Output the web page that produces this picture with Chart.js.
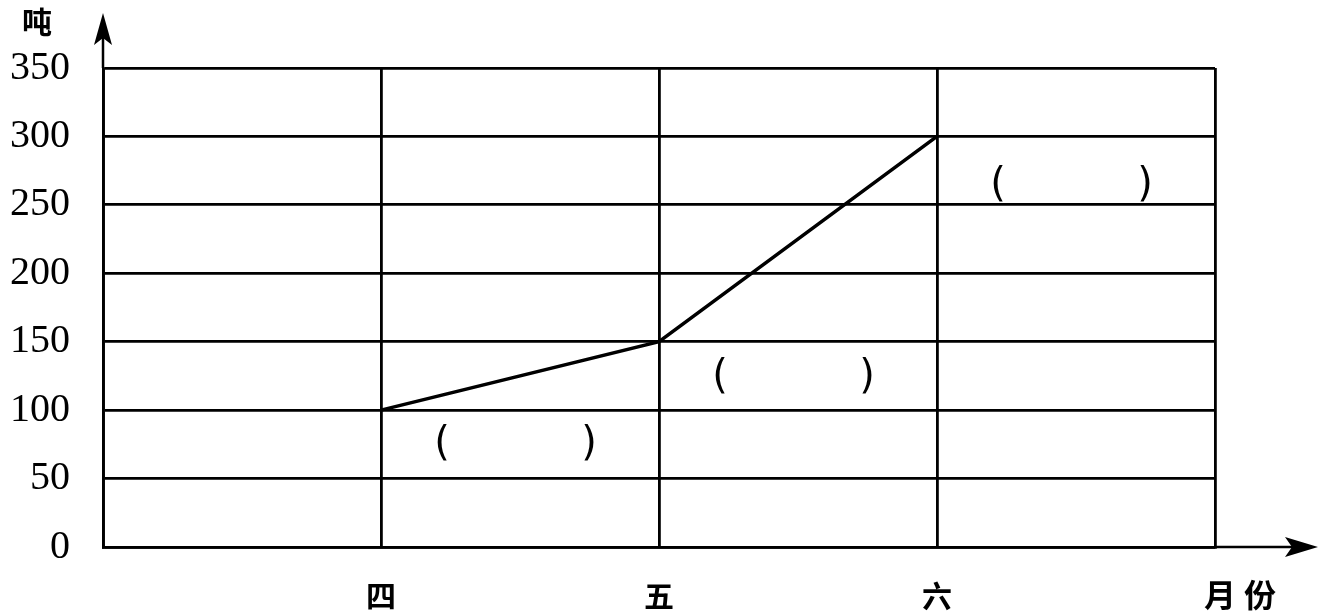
<!DOCTYPE html>
<html>
<head>
<meta charset="utf-8">
<script src="https://cdn.jsdelivr.net/npm/chart.js@4"></script>
<style>
  body { margin: 0; background: #fff; }
  #wrap { width: 1325px; height: 616px; }
</style>
</head>
<body>
<div id="wrap"><canvas id="my-chart" width="1325" height="616"></canvas></div>
<script>
var months = ['', '四', '五', '六', ''];
var tons = [null, 100, 150, 300, null];
var yMax = 350;
var yStep = 50;
var yUnit = '吨';
var xUnit = '月份';

// arrows, units and the "(      )" blanks under each segment
var blankPlugin = {
  id: 'blanks',
  afterDraw: function (chart) {
    var c = chart.ctx;
    var a = chart.chartArea;
    var xs = chart.scales.x, ys = chart.scales.y;
    c.save();
    c.fillStyle = '#000';
    c.strokeStyle = '#000';

    // arrows
    c.lineWidth = 2.5;
    c.beginPath();
    c.moveTo(a.left, a.top);
    c.lineTo(a.left, 30);
    c.moveTo(a.right, a.bottom);
    c.lineTo(1300, a.bottom);
    c.stroke();
    c.beginPath();
    c.moveTo(a.left, 13);
    c.lineTo(a.left - 9, 45);
    c.lineTo(a.left, 38);
    c.lineTo(a.left + 9, 45);
    c.closePath();
    c.fill();
    c.beginPath();
    c.moveTo(1318, a.bottom);
    c.lineTo(1285, a.bottom - 10);
    c.lineTo(1292, a.bottom);
    c.lineTo(1285, a.bottom + 10);
    c.closePath();
    c.fill();

    // units
    c.font = 'bold 30px "Noto Sans CJK SC"';
    c.textAlign = 'center';
    c.textBaseline = 'middle';
    c.fillText(yUnit, 37, 22);
    c.font = 'bold 32px "Noto Sans CJK SC"';
    c.fillText(xUnit.charAt(0), 1220, 595);
    c.fillText(xUnit.charAt(1), 1260, 595);

    // blanks
    c.font = '40px "DejaVu Sans"';
    var spots = [[1.5, 75], [2.5, 124], [3.5, 264]];
    spots.forEach(function (s) {
      var px = xs.getPixelForValue(s[0]);
      var py = ys.getPixelForValue(s[1]);
      c.fillText('(', px - 78, py);
      c.fillText(')', px + 69, py);
    });
    c.restore();
  }
};

var ctx = document.getElementById('my-chart');
var myChart = new Chart(ctx, {
  type: 'line',
  data: {
    labels: months,
    datasets: [
      {
        label: yUnit,
        data: tons,
        borderColor: '#000',
        borderWidth: 3.5,
        pointRadius: 0,
        tension: 0,
        fill: false
      }
    ]
  },
  options: {
    responsive: false,
    animation: false,
    layout: { padding: { top: 68, right: 110, left: 0, bottom: 0 } },
    plugins: { legend: { display: false }, tooltip: { enabled: false } },
    scales: {
      x: {
        offset: false,
        grid: { color: '#000', lineWidth: 2.8, drawTicks: false },
        border: { color: '#000', width: 2.8 },
        ticks: {
          color: '#000',
          padding: 31,
          maxRotation: 0,
          autoSkip: false,
          font: { family: '"Noto Sans CJK SC"', size: 30, weight: 'bold' }
        },
        afterFit: function (s) { s.height = 69; }
      },
      y: {
        min: 0,
        max: yMax,
        grid: { color: '#000', lineWidth: 2.8, drawTicks: false },
        border: { color: '#000', width: 2.8 },
        ticks: {
          stepSize: yStep,
          color: '#000',
          padding: 33,
          font: { family: '"Liberation Serif"', size: 40 }
        },
        afterFit: function (s) { s.width = 103; }
      }
    }
  },
  plugins: [blankPlugin]
});
</script>
</body>
</html>
